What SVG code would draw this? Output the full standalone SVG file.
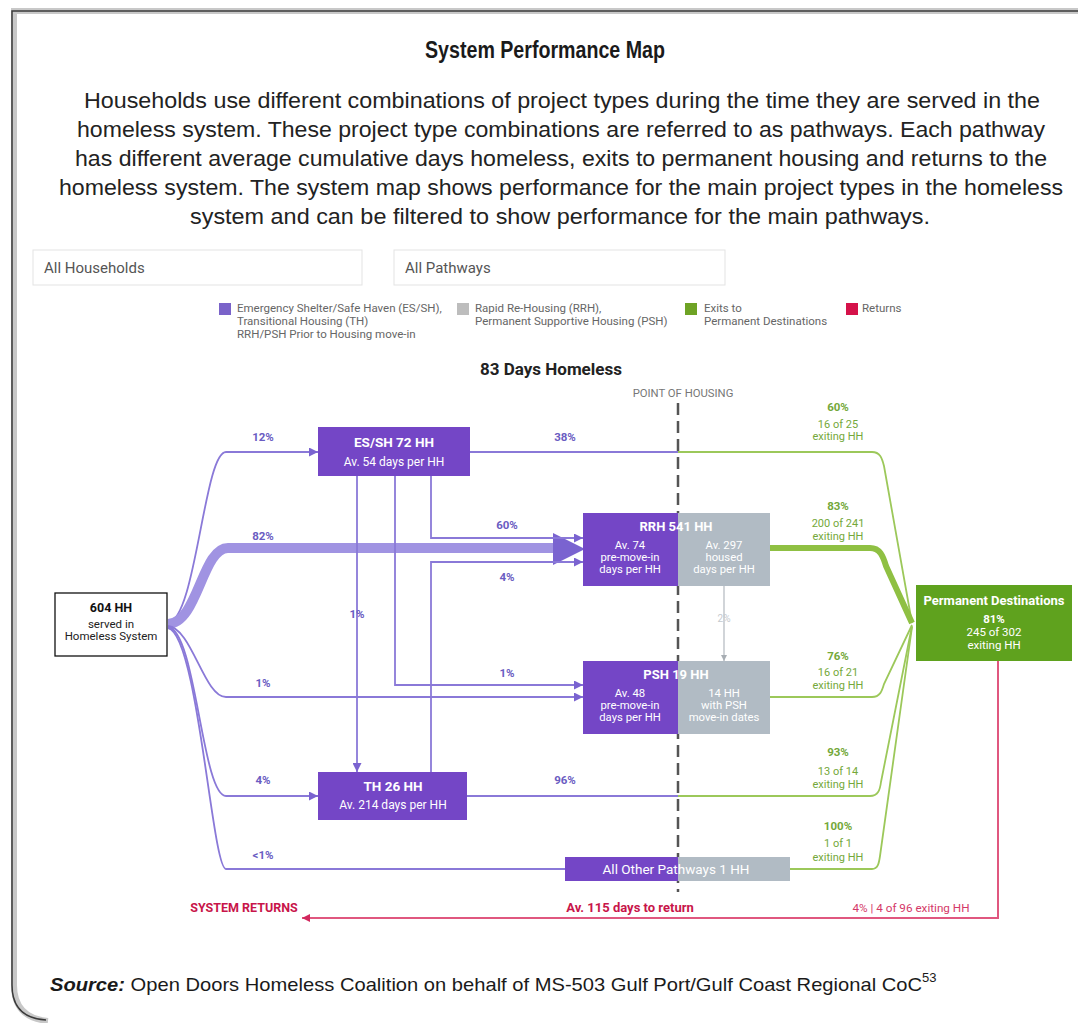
<svg xmlns="http://www.w3.org/2000/svg" width="1078" height="1023" viewBox="0 0 1078 1023">
<defs>
<style>
.hd{font-family:"Liberation Sans",Arial,sans-serif;fill:#1a1a1a}
.para{font-family:"Liberation Sans",Arial,sans-serif;font-size:22px;fill:#222;text-anchor:middle}
.r{font-family:Roboto,"Liberation Sans",sans-serif}
.leg{font-family:Roboto,"Liberation Sans",sans-serif;font-size:11.5px;fill:#666}
.pl{font-family:Roboto,"Liberation Sans",sans-serif;font-size:11.5px;font-weight:bold;fill:#6a5cc2;text-anchor:middle}
.gl{font-family:Roboto,"Liberation Sans",sans-serif;font-size:11px;fill:#74a83a;text-anchor:middle}
.glb{font-weight:bold;font-size:11.5px}
.wt{font-family:Roboto,"Liberation Sans",sans-serif;fill:#fff;text-anchor:middle}
.pline{fill:none;stroke:#8a79d8;stroke-width:1.8}
.gline{fill:none;stroke:#9cc85a;stroke-width:1.8}
.pbox{fill:#7446c6}
.gbox{fill:#b1bbc4}
</style>
<marker id="pa" viewBox="0 0 10 10" refX="10" refY="5" markerWidth="5" markerHeight="5" orient="auto"><path d="M0,0 L10,5 L0,10 z" fill="#7a63d0"/></marker>
<marker id="ga" viewBox="0 0 10 10" refX="10" refY="5" markerWidth="5" markerHeight="5" orient="auto"><path d="M0,0 L10,5 L0,10 z" fill="#a7adb3"/></marker>
<marker id="ra" viewBox="0 0 10 10" refX="10" refY="5" markerWidth="4" markerHeight="4" orient="auto"><path d="M0,0 L10,5 L0,10 z" fill="#d2285e"/></marker>
</defs>
<rect width="1078" height="1023" fill="#fff"/>
<!-- frame -->
<path d="M1078,11 H14 V985 Q14,1018 48,1021" fill="none" stroke="#c8c8c8" stroke-width="6"/>
<path d="M1078,11 H12 V985 Q12,1018 46,1020" fill="none" stroke="#3a3a3a" stroke-width="1.5"/>
<text class="hd" x="545" y="58" font-size="23" font-weight="bold" text-anchor="middle" textLength="240" lengthAdjust="spacingAndGlyphs">System Performance Map</text>
<text class="para" x="562" y="108" textLength="956" lengthAdjust="spacingAndGlyphs">Households use different combinations of project types during the time they are served in the</text>
<text class="para" x="561" y="137" textLength="968" lengthAdjust="spacingAndGlyphs">homeless system. These project type combinations are referred to as pathways. Each pathway</text>
<text class="para" x="561" y="166" textLength="972" lengthAdjust="spacingAndGlyphs">has different average cumulative days homeless, exits to permanent housing and returns to the</text>
<text class="para" x="561" y="195" textLength="1004" lengthAdjust="spacingAndGlyphs">homeless system. The system map shows performance for the main project types in the homeless</text>
<text class="para" x="560" y="224" textLength="740" lengthAdjust="spacingAndGlyphs">system and can be filtered to show performance for the main pathways.</text>
<!-- filters -->
<g id="filter-households"><rect x="33" y="250" width="329" height="35" fill="#fff" stroke="#e3e3e3"/><text class="r" x="44" y="273" font-size="15" fill="#555">All Households</text></g>
<g id="filter-pathways"><rect x="394" y="250" width="331" height="35" fill="#fff" stroke="#e3e3e3"/><text class="r" x="405" y="273" font-size="15" fill="#555">All Pathways</text></g>
<!-- legend -->
<g id="legend">
<rect x="219" y="303" width="12" height="12" fill="#7a63c9"/>
<text class="leg" x="237" y="312">Emergency Shelter/Safe Haven (ES/SH),</text>
<text class="leg" x="237" y="325">Transitional Housing (TH)</text>
<text class="leg" x="237" y="338">RRH/PSH Prior to Housing move-in</text>
<rect x="457" y="303" width="12" height="12" fill="#bdbdbd"/>
<text class="leg" x="475" y="312">Rapid Re-Housing (RRH),</text>
<text class="leg" x="475" y="325">Permanent Supportive Housing (PSH)</text>
<rect x="685" y="303" width="12" height="12" fill="#6ea325"/>
<text class="leg" x="704" y="312">Exits to</text>
<text class="leg" x="704" y="325">Permanent Destinations</text>
<rect x="846" y="303" width="12" height="12" fill="#d5124a"/>
<text class="leg" x="862" y="312">Returns</text>
</g>
<text class="r" x="551" y="375" font-size="17" font-weight="bold" fill="#222" text-anchor="middle">83 Days Homeless</text>
<text class="r" x="683" y="397" font-size="11.3" fill="#777" text-anchor="middle">POINT OF HOUSING</text>
<g id="connectors">
<line x1="678" y1="403" x2="678" y2="892" stroke="#555" stroke-width="2.5" stroke-dasharray="12 6"/>
<path class="pline" d="M168,623 C196,620 204,452 226,452 H318" marker-end="url(#pa)"/>
<path d="M168,624 C198,623 202,548 228,548 H556" fill="none" stroke="#a093e2" stroke-width="10"/>
<path d="M553,533 L585,549 L553,565 z" fill="#7a63d0"/>
<path class="pline" d="M168,626 C192,628 204,697 226,697 H583" marker-end="url(#pa)"/>
<path class="pline" d="M168,627 C196,630 202,796 226,796 H318" marker-end="url(#pa)"/>
<path class="pline" d="M168,628 C198,634 212,869 226,869 H565"/>
<path class="pline" d="M470,452 H678"/>
<path class="pline" d="M357,476 V772" marker-end="url(#pa)"/>
<path class="pline" d="M395,476 V685 H583" marker-end="url(#pa)"/>
<path class="pline" d="M431,476 V538 H583" marker-end="url(#pa)"/>
<path class="pline" d="M431,772 V562 H583" marker-end="url(#pa)"/>
<path class="pline" d="M467,796 H678"/>
<path d="M724,586 V661" fill="none" stroke="#b8bec4" stroke-width="1.3" marker-end="url(#ga)"/>
<path class="gline" d="M678,452 H872 C880,452 882,458 884,466 L912,623"/>
<path d="M770,548 H870 C880,548 883,556 886,566 L912,623" fill="none" stroke="#8fc043" stroke-width="6"/>
<path class="gline" d="M770,697 H872 C880,697 882,691 884,684 L912,625"/>
<path class="gline" d="M678,796 H870 C878,796 880,790 881,782 L912,626"/>
<path class="gline" d="M790,869 H872 C878,869 879,863 880,856 L912,627"/>
<path d="M998,661 V918 H302" fill="none" stroke="#e0577f" stroke-width="2" marker-end="url(#ra)"/>
</g>
<g id="connector-labels">
<text class="pl" x="263" y="441">12%</text>
<text class="pl" x="263" y="540">82%</text>
<text class="pl" x="263" y="687">1%</text>
<text class="pl" x="263" y="784">4%</text>
<text class="pl" x="263" y="859">&lt;1%</text>
<text class="pl" x="565" y="441">38%</text>
<text class="pl" x="565" y="784">96%</text>
<text class="pl" x="357" y="618">1%</text>
<text class="pl" x="507" y="529">60%</text>
<text class="pl" x="507" y="581">4%</text>
<text class="pl" x="507" y="677">1%</text>
<text class="r" x="724" y="622" font-size="10" fill="#c4c9ce" text-anchor="middle">2%</text>
<text class="gl glb" x="838" y="411">60%</text>
<text class="gl" x="838" y="428">16 of 25</text>
<text class="gl" x="838" y="440">exiting HH</text>
<text class="gl glb" x="838" y="510">83%</text>
<text class="gl" x="838" y="527">200 of 241</text>
<text class="gl" x="838" y="540">exiting HH</text>
<text class="gl glb" x="838" y="660">76%</text>
<text class="gl" x="838" y="676">16 of 21</text>
<text class="gl" x="838" y="689">exiting HH</text>
<text class="gl glb" x="838" y="756">93%</text>
<text class="gl" x="838" y="775">13 of 14</text>
<text class="gl" x="838" y="788">exiting HH</text>
<text class="gl glb" x="838" y="830">100%</text>
<text class="gl" x="838" y="847">1 of 1</text>
<text class="gl" x="838" y="861">exiting HH</text>
<text class="r" x="244" y="912" font-size="12.5" font-weight="bold" fill="#c8154a" text-anchor="middle">SYSTEM RETURNS</text>
<text class="r" x="630" y="912" font-size="13" font-weight="bold" fill="#c8154a" text-anchor="middle">Av. 115 days to return</text>
<text class="r" x="911" y="912" font-size="11.7" fill="#d43868" text-anchor="middle">4% | 4 of 96 exiting HH</text>
</g>
<g id="node-604">
<rect x="55" y="593" width="112" height="63" fill="#fff" stroke="#111" stroke-width="1.3"/>
<text class="r" x="111" y="612" font-size="12.5" font-weight="bold" fill="#111" text-anchor="middle">604 HH</text>
<text class="r" x="111" y="628" font-size="11.5" fill="#222" text-anchor="middle">served in</text>
<text class="r" x="111" y="640" font-size="11.5" fill="#222" text-anchor="middle">Homeless System</text>
</g>
<g id="node-essh">
<rect class="pbox" x="318" y="427" width="152" height="49"/>
<text class="wt" x="394" y="447" font-size="13.5" font-weight="bold">ES/SH  72 HH</text>
<text class="wt" x="394" y="466" font-size="12">Av. 54 days per HH</text>
</g>
<g id="node-th">
<rect class="pbox" x="318" y="772" width="149" height="48"/>
<text class="wt" x="393" y="791" font-size="13.5" font-weight="bold">TH  26 HH</text>
<text class="wt" x="393" y="809" font-size="12">Av. 214 days per HH</text>
</g>
<g id="node-rrh">
<rect class="pbox" x="583" y="513" width="95" height="73"/>
<rect class="gbox" x="678" y="513" width="92" height="73"/>
<text class="wt" x="676" y="531" font-size="13" font-weight="bold">RRH  541 HH</text>
<text class="wt" x="630" y="549" font-size="11.3">Av. 74</text>
<text class="wt" x="630" y="561" font-size="11.3">pre-move-in</text>
<text class="wt" x="630" y="573" font-size="11.3">days per HH</text>
<text class="wt" x="724" y="549" font-size="11.3">Av. 297</text>
<text class="wt" x="724" y="561" font-size="11.3">housed</text>
<text class="wt" x="724" y="573" font-size="11.3">days per HH</text>
</g>
<g id="node-psh">
<rect class="pbox" x="583" y="661" width="95" height="73"/>
<rect class="gbox" x="678" y="661" width="92" height="73"/>
<text class="wt" x="676" y="679" font-size="13" font-weight="bold">PSH  19 HH</text>
<text class="wt" x="630" y="697" font-size="11.3">Av. 48</text>
<text class="wt" x="630" y="709" font-size="11.3">pre-move-in</text>
<text class="wt" x="630" y="721" font-size="11.3">days per HH</text>
<text class="wt" x="724" y="697" font-size="11.3">14 HH</text>
<text class="wt" x="724" y="709" font-size="11.3">with PSH</text>
<text class="wt" x="724" y="721" font-size="11.3">move-in dates</text>
</g>
<g id="node-other">
<rect class="pbox" x="565" y="857" width="113" height="24"/>
<rect class="gbox" x="678" y="857" width="112" height="24"/>
<text class="wt" x="676" y="874" font-size="13.5">All Other Pathways  1 HH</text>
</g>
<g id="node-permanent">
<rect x="916" y="585" width="156" height="76" fill="#5fa21e"/>
<text class="wt" x="994" y="605" font-size="13" font-weight="bold">Permanent Destinations</text>
<text class="wt" x="994" y="623" font-size="11.5" font-weight="bold">81%</text>
<text class="wt" x="994" y="636" font-size="11.5">245 of 302</text>
<text class="wt" x="994" y="649" font-size="11.5">exiting HH</text>
</g>
<text class="hd" x="50" y="991" font-size="19" textLength="872" lengthAdjust="spacingAndGlyphs"><tspan font-weight="bold" font-style="italic">Source:</tspan> Open Doors Homeless Coalition on behalf of MS-503 Gulf Port/Gulf Coast Regional CoC</text>
<text class="hd" x="922" y="982" font-size="13">53</text>
</svg>
